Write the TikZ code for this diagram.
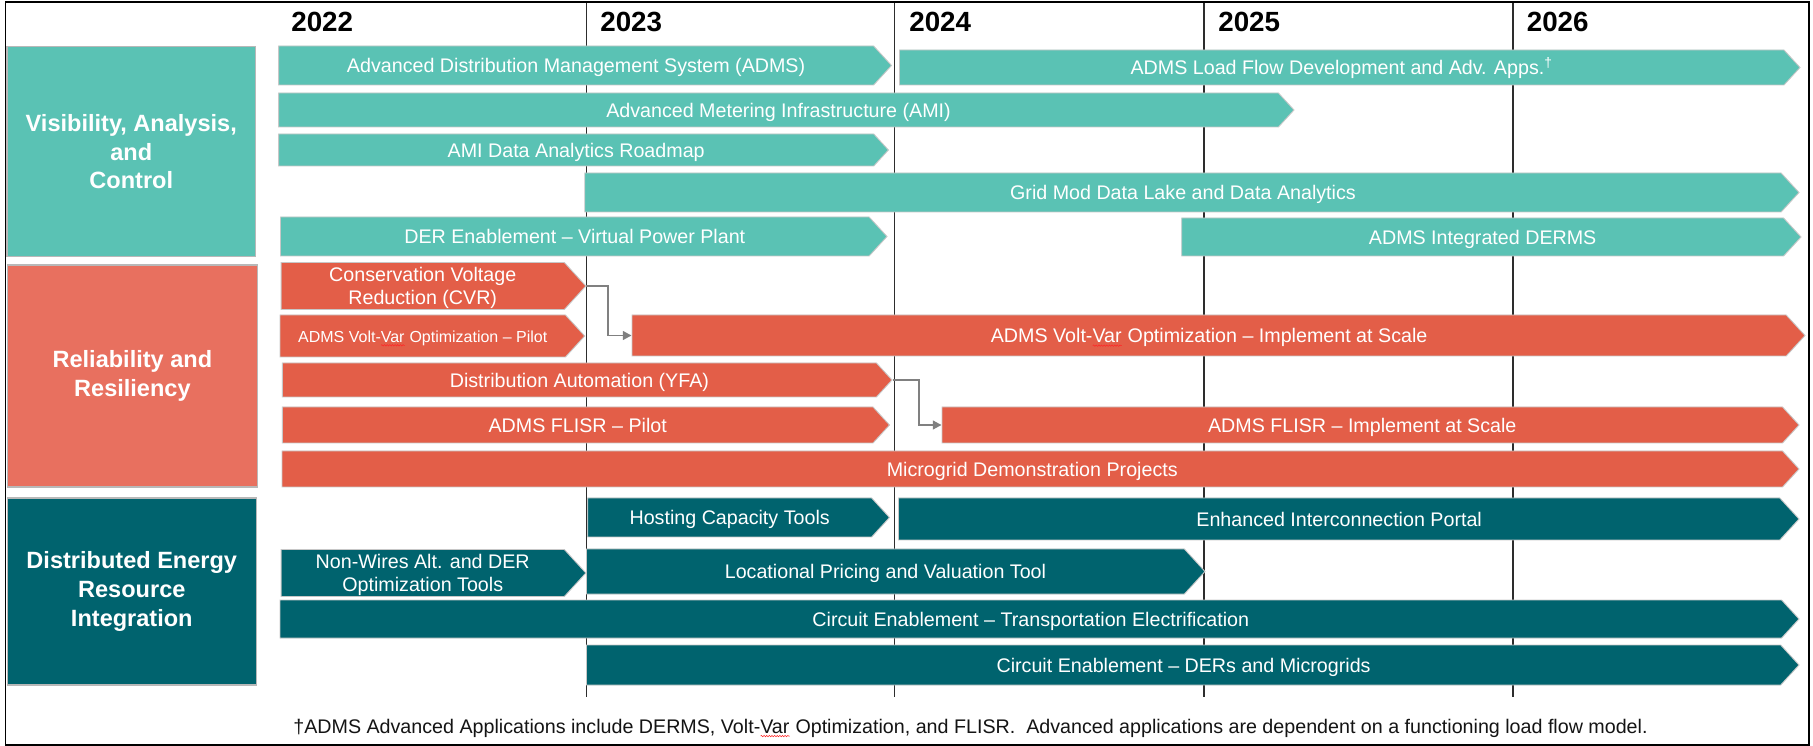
\documentclass[tikz,border=0pt]{standalone}
\usepackage{fontspec}
\setmainfont{Liberation Sans}
\usetikzlibrary{shapes.symbols,arrows.meta,decorations.pathmorphing}
\definecolor{tealL}{RGB}{90,194,180}
\definecolor{redB}{RGB}{227,94,72}
\definecolor{redC}{RGB}{232,112,95}
\definecolor{tealD}{RGB}{0,99,110}
\definecolor{connG}{RGB}{128,128,128}
\definecolor{gridL}{RGB}{45,45,45}
\newlength\sqwd
\newcommand{\sqv}[1]{\settowidth\sqwd{#1}\rlap{#1}\tikz[baseline=0pt]\draw[red!85,line width=0.3pt,decorate,decoration={snake,amplitude=0.4pt,segment length=1.5pt}] (0pt,-1.7pt) -- (\sqwd,-1.7pt);}
% bar: style, name, left x, tip x, top y, bottom y, text (the signal body is centred on the node, the tip sticks out east)
\newcommand{\gbar}[7]{\node[#1, minimum width={(#4-#3)*0.02cm}, minimum height={(#6-#5)*0.02cm}] (#2) at ({(#3+#4)/2-(#6-#5)*0.2291},{(#5+#6)/2}) {\raisebox{-1.4pt}[\height][\depth]{\begin{tabular}{@{}c@{}}#7\end{tabular}}};}
\tikzset{
 barbase/.style={shape=signal, signal to=east, signal pointer angle=95, draw=black!22, line width=0.5pt, inner sep=0pt, text=white, font=\fontsize{11.2}{13.4}\selectfont, align=center},
 barA/.style={barbase, fill=tealL},
 barR/.style={barbase, fill=redB},
 barD/.style={barbase, fill=tealD},
 catbox/.style={rectangle, draw=black!28, line width=0.7pt, inner sep=0pt, text=white, font=\fontsize{13.4}{16.4}\selectfont\bfseries, align=center},
 yearlab/.style={anchor=west, inner sep=0pt, font=\fontsize{15.8}{18}\selectfont\bfseries},
 yline/.style={draw=gridL, line width=1pt},
 conn/.style={draw=connG, line width=1.1pt, -{Triangle[length=5pt,width=5pt]}},
}
\begin{document}
\begin{tikzpicture}[x=0.02cm,y=-0.02cm]
\useasboundingbox (0,0) rectangle (1813,746);
\fill[white] (0,0) rectangle (1813,746);
% year grid lines
\draw[yline] (586.6,2) coordinate (l23t) -- (586.6,697) coordinate (l23b);
\draw[yline] (894.6,2) coordinate (l24t) -- (894.6,697) coordinate (l24b);
\draw[yline] (1204,2) coordinate (l25t) -- (1204,697) coordinate (l25b);
\draw[yline] (1512.7,2) coordinate (l26t) -- (1512.7,697) coordinate (l26b);
% year labels
\node[yearlab] (y22) at (291,22) {2022};
\node[yearlab] (y23) at (600,22) {2023};
\node[yearlab] (y24) at (909,22) {2024};
\node[yearlab] (y25) at (1218,22) {2025};
\node[yearlab] (y26) at (1526.5,22) {2026};
% category boxes
\node[catbox, fill=tealL, minimum width={248.7*0.02cm}, minimum height={210*0.02cm}] (vac) at (131.25,151.7) {Visibility, Analysis,\\and\\Control};
\node[catbox, fill=redC, minimum width={250.2*0.02cm}, minimum height={222*0.02cm}] (rr) at (132.4,376) {Reliability and\\Resiliency};
\node[catbox, fill=tealD, minimum width={249*0.02cm}, minimum height={187*0.02cm}] (deri) at (131.8,591.5) {Distributed Energy\\Resource\\Integration};
% Visibility bars
\gbar{barA}{adms}{278.6}{891.5}{46}{85}{Advanced Distribution Management System (ADMS)}
\gbar{barA}{admslf}{899.5}{1800}{50}{85}{ADMS Load Flow Development and Adv. Apps.\textsuperscript{†}}
\gbar{barA}{ami}{278.6}{1294}{93}{127}{Advanced Metering Infrastructure (AMI)}
\gbar{barA}{amida}{278.6}{888.4}{134}{166}{AMI Data Analytics Roadmap}
\gbar{barA}{grid}{584.8}{1799}{173}{212}{Grid Mod Data Lake and Data Analytics}
\gbar{barA}{derv}{280.5}{887}{217}{256}{DER Enablement – Virtual Power Plant}
\gbar{barA}{derms}{1181.7}{1801}{218}{256}{ADMS Integrated DERMS}
% Reliability bars
\gbar{barR}{cvr}{280}{584.7}{265}{307}{Conservation Voltage\\Reduction (CVR)}
\gbar{barR, font=\fontsize{9.1}{11}\selectfont}{vvop}{280}{584.7}{315}{357}{ADMS Volt-\sqv{Var} Optimization – Pilot}
\gbar{barR}{vvos}{632}{1805}{315}{356}{ADMS Volt-\sqv{Var} Optimization – Implement at Scale}
\gbar{barR}{da}{282.4}{892}{363}{397}{Distribution Automation (YFA)}
\gbar{barR}{flp}{282.4}{889.5}{407}{443}{ADMS FLISR – Pilot}
\gbar{barR}{fls}{942}{1799}{407}{443}{ADMS FLISR – Implement at Scale}
\gbar{barR}{micro}{282}{1799}{451}{487}{Microgrid Demonstration Projects}
% DER integration bars
\gbar{barD}{host}{587.7}{889.5}{498}{537}{Hosting Capacity Tools}
\gbar{barD}{eip}{898.5}{1799}{498}{540}{Enhanced Interconnection Portal}
\gbar{barD}{nwa}{280}{584.7}{552}{594}{Non-Wires Alt. and DER\\Optimization Tools}
\gbar{barD}{lpv}{586.5}{1205}{549}{594}{Locational Pricing and Valuation Tool}
\gbar{barD}{cete}{280}{1799}{600}{638}{Circuit Enablement – Transportation Electrification}
\gbar{barD}{ceder}{586.5}{1799}{645}{685}{Circuit Enablement – DERs and Microgrids}
% connectors
\draw[conn] (cvr.east) -- ++(21.3,0) |- (vvos.west);
\draw[conn] (da.east) -- ++(26,0) |- (fls.west);
% footnote
\node[inner sep=0pt, text=black!92, font=\fontsize{11.2}{13.4}\selectfont] (fn) at (970.5,728) {†ADMS Advanced Applications include DERMS, Volt-\sqv{Var} Optimization, and FLISR.\ \ Advanced applications are dependent on a functioning load flow model.};
% frame
\draw[line width=0.9pt] (5.7,2) rectangle (1809,745);
\end{tikzpicture}
\end{document}
